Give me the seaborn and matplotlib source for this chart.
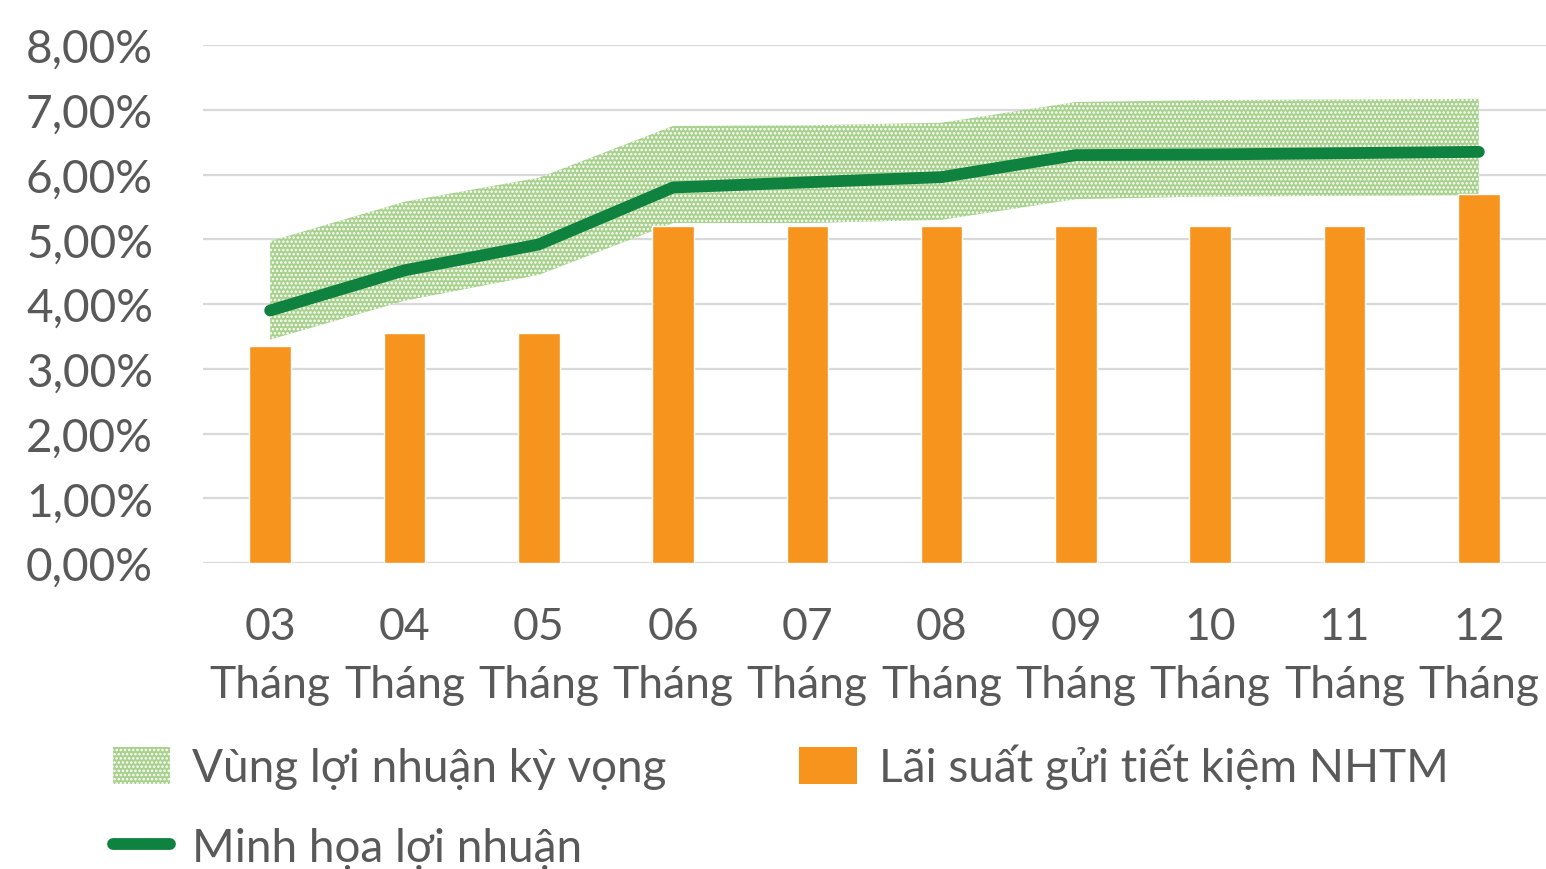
import numpy as np
import matplotlib
matplotlib.use("Agg")
import matplotlib.pyplot as plt
import seaborn as sns
from matplotlib.patches import Patch
from matplotlib.lines import Line2D

# Chart data
months = ["03", "04", "05", "06", "07", "08", "09", "10", "11", "12"]
deposit_rate = [3.35, 3.55, 3.55, 5.20, 5.20, 5.20, 5.20, 5.20, 5.20, 5.70]
profit_line = [3.90, 4.52, 4.92, 5.80, 5.88, 5.96, 6.30, 6.31, 6.33, 6.35]
band_low = [3.45, 4.05, 4.45, 5.25, 5.25, 5.30, 5.62, 5.66, 5.67, 5.68]
band_high = [4.97, 5.58, 5.95, 6.75, 6.76, 6.80, 7.12, 7.15, 7.16, 7.17]
y_ticks = [0, 1, 2, 3, 4, 5, 6, 7, 8]

label_band = "Vùng lợi nhuận kỳ vọng"
label_bar = "Lãi suất gửi tiết kiệm NHTM"
label_line = "Minh họa lợi nhuận"

ORANGE = "#F7941E"
GREEN = "#10823F"
BAND = "#A9D18E"
TEXT = "#595959"
GRID = "#D9D9D9"

sns.set_theme(style="white")
plt.rcParams["font.family"] = ["Lato", "DejaVu Sans"]
plt.rcParams["hatch.linewidth"] = 1.2

fig = plt.figure(figsize=(15.46, 8.70), dpi=100)
ax = fig.add_axes([0.1313, 0.3517, 0.8687, 0.5954])

x = np.arange(len(months))

# expected profit band
ax.fill_between(x, band_low, band_high, facecolor=BAND, edgecolor="white",
                hatch="....", linewidth=0, zorder=1)

# bank deposit rate bars
sns.barplot(x=x, y=deposit_rate, color=ORANGE, saturation=1, width=0.31,
            ax=ax, zorder=2)

# profit line
sns.lineplot(x=x, y=profit_line, color=GREEN, linewidth=8.5, ax=ax,
             zorder=3, solid_capstyle="round")

ax.set_xlim(-0.5, 9.5)
ax.set_ylim(0, 8)
ax.set_yticks(y_ticks)
ax.set_yticklabels([f"{v:.2f}%".replace(".", ",") for v in y_ticks])
ax.set_xticks(x)
ax.set_xticklabels([f"{m}\nTháng" for m in months], linespacing=1.5)
ax.tick_params(axis="both", length=0, labelsize=33, colors=TEXT)
ax.tick_params(axis="x", labelsize=32, pad=31)
ax.tick_params(axis="y", pad=36)
ax.set_xlabel("")
ax.set_ylabel("")
ax.yaxis.grid(True, color=GRID, linewidth=1.6)
ax.set_axisbelow(True)
for s in ax.spines.values():
    s.set_visible(False)

handles = [
    Patch(facecolor=BAND, edgecolor="white", hatch="....", linewidth=0),
    Line2D([0], [0], color=GREEN, linewidth=8.5, solid_capstyle="round"),
    Patch(facecolor=ORANGE, linewidth=0),
]
fig.legend(handles, [label_band, label_line, label_bar], ncol=2,
           loc="upper left", bbox_to_anchor=(0.061, 0.165),
           frameon=False, fontsize=33, labelcolor=TEXT,
           handlelength=1.25, handleheight=0.85, handletextpad=0.49,
           columnspacing=2.89, labelspacing=0.83, borderaxespad=0)

fig.savefig("out.png", dpi=100)
